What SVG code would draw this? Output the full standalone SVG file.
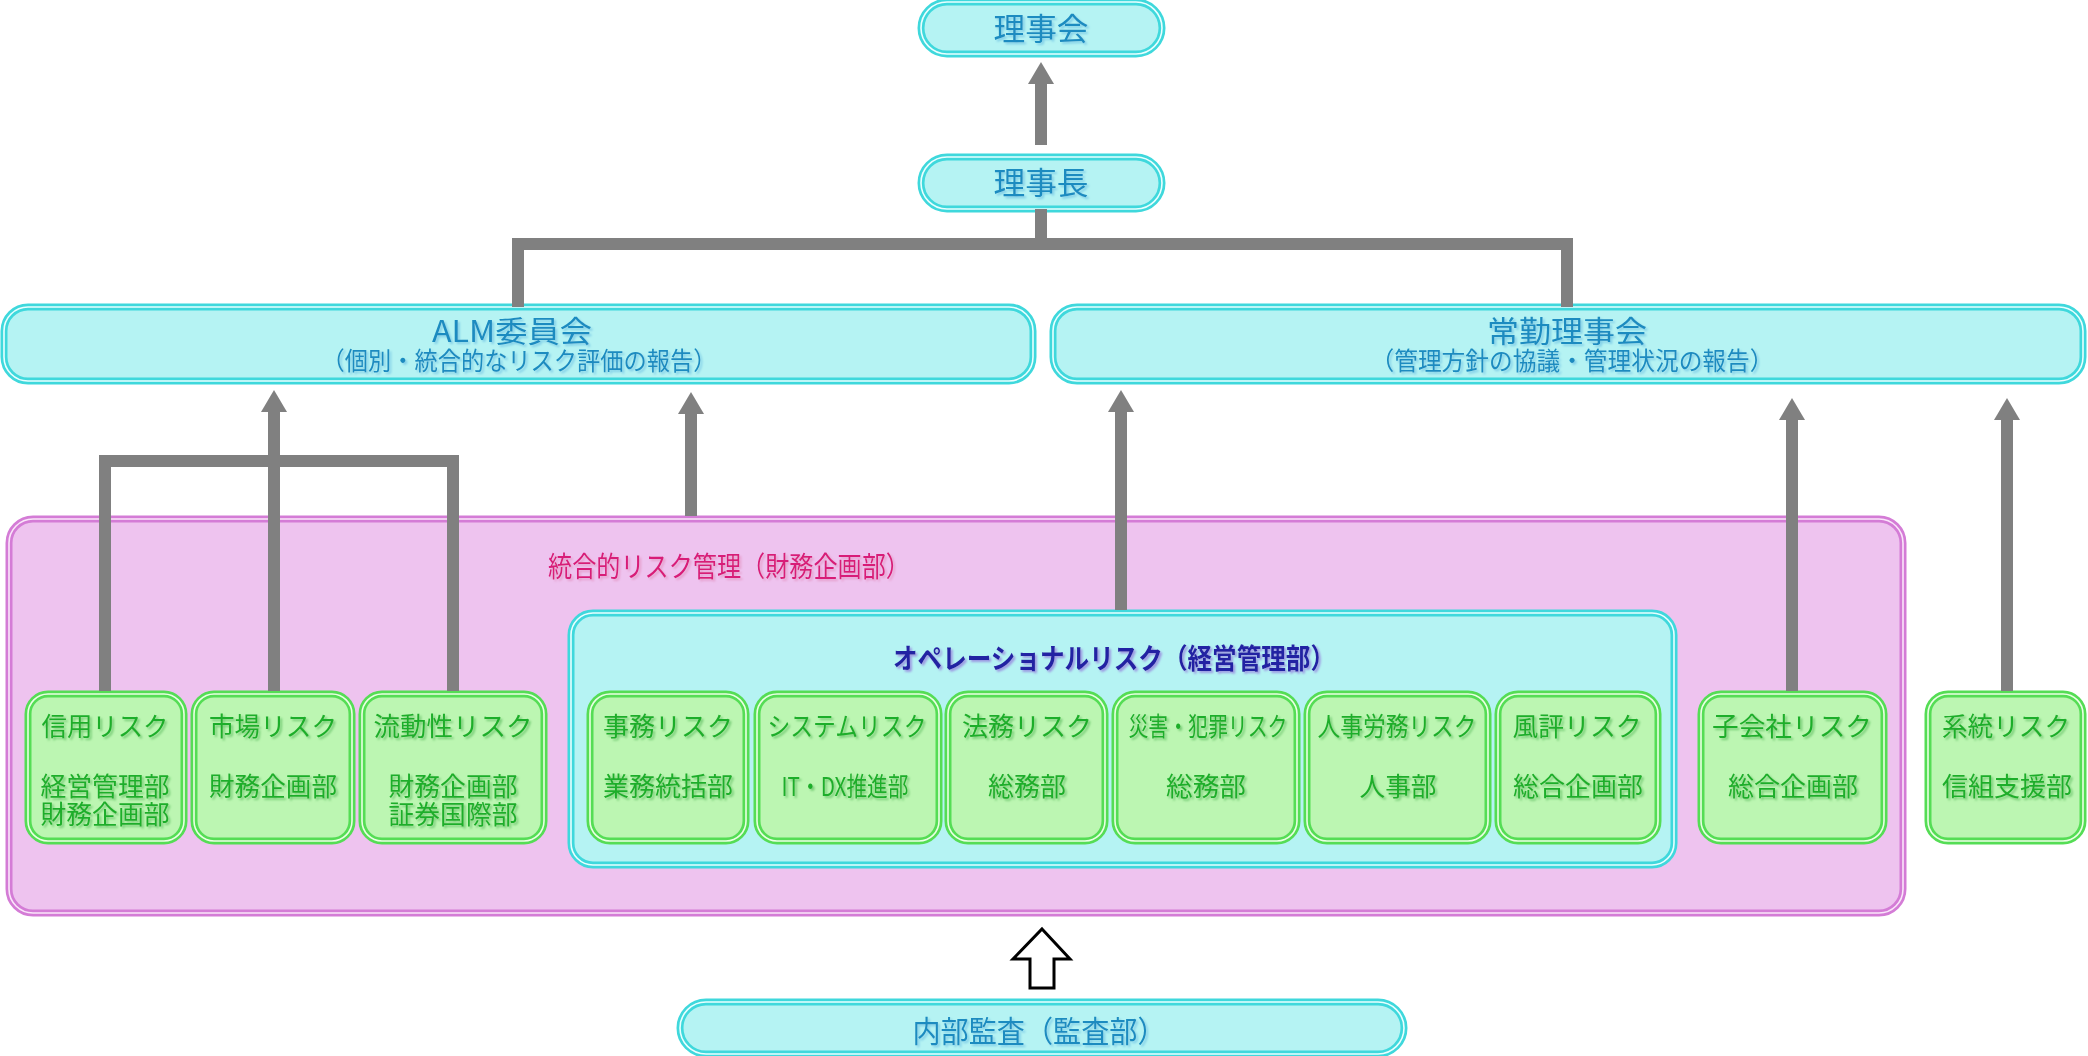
<svg xmlns="http://www.w3.org/2000/svg" width="2088" height="1056" viewBox="0 0 2088 1056">
<defs>
<style>
text{font-family:"Noto Sans CJK JP","Noto Sans",sans-serif;text-anchor:middle}
.cy{fill:#b5f3f3;stroke:#3fd8dc;stroke-width:7}
.pk{fill:#eec3ef;stroke:#d47cd6;stroke-width:7}
.gr{fill:#bcf6b2;stroke:#55dd55;stroke-width:7}
.mid{fill:none;stroke-width:1.6}
.cym{stroke:#e8ffff}
.pkm{stroke:#fae6fa}
.grm{stroke:#eaffe4}
.tb{fill:#1a8bc0;filter:url(#shB)}
.tg{fill:#1fae2a;font-size:26px;filter:url(#shG)}
.tp{fill:#d81b78;font-size:28px;filter:url(#shP)}
.tn{fill:#2323a3;font-size:28px;font-weight:bold;filter:url(#shN)}
.con{fill:none;stroke:#808080;stroke-width:12;stroke-linejoin:miter}
</style>
<filter id="shB" x="-10%" y="-30%" width="120%" height="160%"><feDropShadow dx="2" dy="2" stdDeviation="1" flood-color="#7ccbe6" flood-opacity="0.9"/></filter>
<filter id="shG" x="-10%" y="-30%" width="120%" height="160%"><feDropShadow dx="2" dy="2" stdDeviation="1" flood-color="#6fc86f" flood-opacity="0.9"/></filter>
<filter id="shP" x="-10%" y="-30%" width="120%" height="160%"><feDropShadow dx="2" dy="2" stdDeviation="1" flood-color="#e59ac8" flood-opacity="0.9"/></filter>
<filter id="shN" x="-10%" y="-30%" width="120%" height="160%"><feDropShadow dx="2" dy="2" stdDeviation="1" flood-color="#9a8fe0" flood-opacity="0.9"/></filter>
<marker id="ah" markerUnits="userSpaceOnUse" viewBox="0 0 22 26" markerWidth="22" markerHeight="26" refX="0" refY="13" orient="auto"><path d="M0,0 L22,13 L0,26 Z" fill="#808080"/></marker>
</defs>
<rect width="2088" height="1056" fill="#ffffff"/>

<g id="rijikai">
<rect class="cy" x="921" y="2" width="241" height="52" rx="26"/>
<rect class="mid cym" x="921" y="2" width="241" height="52" rx="26"/>
<text class="tb" x="1041" y="40" font-size="31" textLength="95" lengthAdjust="spacingAndGlyphs">理事会</text>
</g>

<g id="rijicho">
<rect class="cy" x="921" y="157" width="241" height="52" rx="26"/>
<rect class="mid cym" x="921" y="157" width="241" height="52" rx="26"/>
<text class="tb" x="1041" y="194" font-size="31" textLength="95" lengthAdjust="spacingAndGlyphs">理事長</text>
</g>

<g id="alm">
<rect class="cy" x="4" y="307" width="1029" height="74" rx="24"/>
<rect class="mid cym" x="4" y="307" width="1029" height="74" rx="24"/>
<text class="tb"><tspan x="512" y="342" font-size="30" textLength="160" lengthAdjust="spacingAndGlyphs">ALM委員会</tspan><tspan x="519" y="370" font-size="25" textLength="395" lengthAdjust="spacingAndGlyphs">（個別・統合的なリスク評価の報告）</tspan></text>
</g>

<g id="jokin">
<rect class="cy" x="1053" y="307" width="1030" height="74" rx="24"/>
<rect class="mid cym" x="1053" y="307" width="1030" height="74" rx="24"/>
<text class="tb"><tspan x="1567" y="342" font-size="30" textLength="160" lengthAdjust="spacingAndGlyphs">常勤理事会</tspan><tspan x="1572" y="370" font-size="25" textLength="403" lengthAdjust="spacingAndGlyphs">（管理方針の協議・管理状況の報告）</tspan></text>
</g>

<g id="togo">
<rect class="pk" x="9" y="519" width="1894" height="394" rx="24"/>
<rect class="mid pkm" x="9" y="519" width="1894" height="394" rx="24"/>
<text class="tp" x="729" y="577" textLength="362" lengthAdjust="spacingAndGlyphs">統合的リスク管理（財務企画部）</text>
</g>

<g id="operational">
<rect class="cy" x="571" y="613" width="1103" height="252" rx="22"/>
<rect class="mid cym" x="571" y="613" width="1103" height="252" rx="22"/>
<text class="tn" x="1114" y="669" textLength="442" lengthAdjust="spacingAndGlyphs">オペレーショナルリスク（経営管理部）</text>
</g>

<g id="shinyo">
<rect class="gr" x="28" y="694" width="156" height="147" rx="20"/>
<rect class="mid grm" x="28" y="694" width="156" height="147" rx="20"/>
<text class="tg" x="105" y="736" textLength="127" lengthAdjust="spacingAndGlyphs">信用リスク</text>
<text class="tg"><tspan x="105" y="796" textLength="129" lengthAdjust="spacingAndGlyphs">経営管理部</tspan><tspan x="105" y="824" textLength="129" lengthAdjust="spacingAndGlyphs">財務企画部</tspan></text>
</g>

<g id="shijo">
<rect class="gr" x="194" y="694" width="158" height="147" rx="20"/>
<rect class="mid grm" x="194" y="694" width="158" height="147" rx="20"/>
<text class="tg" x="273" y="736" textLength="128" lengthAdjust="spacingAndGlyphs">市場リスク</text>
<text class="tg" x="273" y="796" textLength="128" lengthAdjust="spacingAndGlyphs">財務企画部</text>
</g>

<g id="ryudosei">
<rect class="gr" x="362" y="694" width="182" height="147" rx="20"/>
<rect class="mid grm" x="362" y="694" width="182" height="147" rx="20"/>
<text class="tg" x="453" y="736" textLength="159" lengthAdjust="spacingAndGlyphs">流動性リスク</text>
<text class="tg"><tspan x="453" y="796" textLength="129" lengthAdjust="spacingAndGlyphs">財務企画部</tspan><tspan x="453" y="824" textLength="129" lengthAdjust="spacingAndGlyphs">証券国際部</tspan></text>
</g>

<g id="jimu">
<rect class="gr" x="590" y="694" width="156" height="147" rx="20"/>
<rect class="mid grm" x="590" y="694" width="156" height="147" rx="20"/>
<text class="tg" x="668" y="736" textLength="130" lengthAdjust="spacingAndGlyphs">事務リスク</text>
<text class="tg" x="668" y="796" textLength="130" lengthAdjust="spacingAndGlyphs">業務統括部</text>
</g>

<g id="system">
<rect class="gr" x="757" y="694" width="182" height="147" rx="20"/>
<rect class="mid grm" x="757" y="694" width="182" height="147" rx="20"/>
<text class="tg" x="847" y="736" textLength="159" lengthAdjust="spacingAndGlyphs">システムリスク</text>
<text class="tg" x="845" y="796" textLength="127" lengthAdjust="spacingAndGlyphs">IT・DX推進部</text>
</g>

<g id="homu">
<rect class="gr" x="948" y="694" width="157" height="147" rx="20"/>
<rect class="mid grm" x="948" y="694" width="157" height="147" rx="20"/>
<text class="tg" x="1027" y="736" textLength="130" lengthAdjust="spacingAndGlyphs">法務リスク</text>
<text class="tg" x="1027" y="796" textLength="78" lengthAdjust="spacingAndGlyphs">総務部</text>
</g>

<g id="saigai">
<rect class="gr" x="1115" y="694" width="182" height="147" rx="20"/>
<rect class="mid grm" x="1115" y="694" width="182" height="147" rx="20"/>
<text class="tg" x="1208" y="736" textLength="159" lengthAdjust="spacingAndGlyphs">災害・犯罪リスク</text>
<text class="tg" x="1206" y="796" textLength="80" lengthAdjust="spacingAndGlyphs">総務部</text>
</g>

<g id="jinji">
<rect class="gr" x="1307" y="694" width="181" height="147" rx="20"/>
<rect class="mid grm" x="1307" y="694" width="181" height="147" rx="20"/>
<text class="tg" x="1397" y="736" textLength="159" lengthAdjust="spacingAndGlyphs">人事労務リスク</text>
<text class="tg" x="1398" y="796" textLength="77" lengthAdjust="spacingAndGlyphs">人事部</text>
</g>

<g id="fuhyo">
<rect class="gr" x="1498" y="694" width="160" height="147" rx="20"/>
<rect class="mid grm" x="1498" y="694" width="160" height="147" rx="20"/>
<text class="tg" x="1577" y="736" textLength="129" lengthAdjust="spacingAndGlyphs">風評リスク</text>
<text class="tg" x="1578" y="796" textLength="130" lengthAdjust="spacingAndGlyphs">総合企画部</text>
</g>

<g id="kogaisha">
<rect class="gr" x="1701" y="694" width="183" height="147" rx="20"/>
<rect class="mid grm" x="1701" y="694" width="183" height="147" rx="20"/>
<text class="tg" x="1792" y="736" textLength="160" lengthAdjust="spacingAndGlyphs">子会社リスク</text>
<text class="tg" x="1793" y="796" textLength="130" lengthAdjust="spacingAndGlyphs">総合企画部</text>
</g>

<g id="keito">
<rect class="gr" x="1928" y="694" width="155" height="147" rx="20"/>
<rect class="mid grm" x="1928" y="694" width="155" height="147" rx="20"/>
<text class="tg" x="2006" y="736" textLength="128" lengthAdjust="spacingAndGlyphs">系統リスク</text>
<text class="tg" x="2007" y="796" textLength="130" lengthAdjust="spacingAndGlyphs">信組支援部</text>
</g>

<g id="naibukansa">
<rect class="cy" x="680" y="1002" width="724" height="52" rx="26"/>
<rect class="mid cym" x="680" y="1002" width="724" height="52" rx="26"/>
<text class="tb" x="1039" y="1042" font-size="30" textLength="253" lengthAdjust="spacingAndGlyphs">内部監査（監査部）</text>
</g>

<g id="connectors">
<path class="con" d="M1041,145 V84" marker-end="url(#ah)"/>
<path class="con" d="M518,307 V244 H1567 V307 M1041,209 V244"/>
<path class="con" d="M105,691 V461 H453 V691"/>
<path class="con" d="M274,691 V412" marker-end="url(#ah)"/>
<path class="con" d="M691,516 V414" marker-end="url(#ah)"/>
<path class="con" d="M1121,610 V412" marker-end="url(#ah)"/>
<path class="con" d="M1792,691 V420" marker-end="url(#ah)"/>
<path class="con" d="M2007,691 V420" marker-end="url(#ah)"/>
<polygon points="1042,929 1070,959 1054,959 1054,988 1030,988 1030,959 1013,959" fill="#ffffff" stroke="#000000" stroke-width="3"/>
</g>
</svg>
